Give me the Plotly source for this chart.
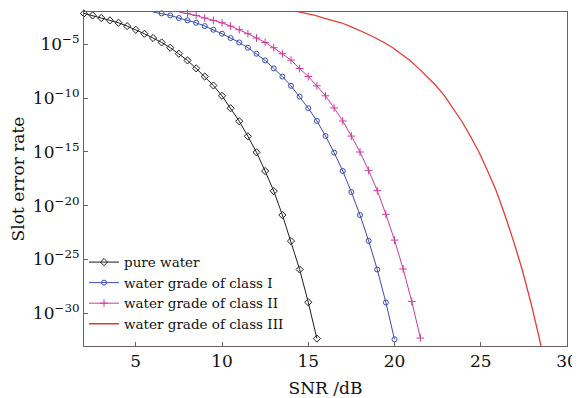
import plotly.graph_objects as go

# SNR (dB) sample points and log10 of slot error rate
snr_pure = [2.0, 2.5, 3.0, 3.5, 4.0, 4.5, 5.0, 5.5, 6.0, 6.5, 7.0, 7.5, 8.0, 8.5,
            9.0, 9.5, 10.0, 10.5, 11.0, 11.5, 12.0, 12.5, 13.0, 13.5, 14.0, 14.5, 15.0, 15.5]
log_pure = [-2.13, -2.32, -2.56, -2.78, -3.0, -3.31, -3.65, -4.02, -4.42, -4.83, -5.32, -5.88,
            -6.5, -7.24, -8.0, -8.83, -9.79, -10.94, -12.15, -13.55, -15.04, -16.78, -18.64,
            -20.87, -23.29, -25.93, -28.97, -32.35]

snr_c1 = [6.0, 6.5, 7.0, 7.5, 8.0, 8.5, 9.0, 9.5, 10.0, 10.5, 11.0, 11.5, 12.0, 12.5, 13.0,
          13.5, 14.0, 14.5, 15.0, 15.5, 16.0, 16.5, 17.0, 17.5, 18.0, 18.5, 19.0, 19.5, 20.0]
log_c1 = [-2.0, -2.13, -2.32, -2.56, -2.78, -3.0, -3.31, -3.65, -4.02, -4.42, -4.83, -5.32,
          -5.88, -6.5, -7.24, -8.0, -8.86, -9.86, -10.94, -12.12, -13.52, -15.07, -16.78,
          -18.73, -20.87, -23.27, -25.93, -29.0, -32.42]

snr_c2 = [7.5, 8.0, 8.5, 9.0, 9.5, 10.0, 10.5, 11.0, 11.5, 12.0, 12.5, 13.0, 13.5, 14.0, 14.5,
          15.0, 15.5, 16.0, 16.5, 17.0, 17.5, 18.0, 18.5, 19.0, 19.5, 20.0, 20.5, 21.0, 21.5]
log_c2 = [-2.0, -2.13, -2.32, -2.56, -2.78, -3.0, -3.31, -3.65, -4.02, -4.42, -4.83, -5.32,
          -5.88, -6.47, -7.25, -8.0, -8.86, -9.79, -10.92, -12.13, -13.53, -15.01, -16.72,
          -18.6, -20.8, -23.2, -25.88, -28.9, -32.3]

snr_c3 = [14.4, 14.9, 15.4, 15.9, 16.4, 16.9, 17.4, 17.9, 18.4, 18.9, 19.4, 19.9, 20.4, 20.9,
          21.4, 21.9, 22.4, 22.9, 23.4, 23.9, 24.4, 24.9, 25.4, 25.9, 26.4, 26.9, 27.4, 27.9,
          28.4, 28.9]
log_c3 = [-1.97, -2.13, -2.32, -2.56, -2.78, -3.0, -3.31, -3.65, -4.02, -4.42, -4.83, -5.32,
          -5.88, -6.5, -7.24, -8.0, -8.83, -9.79, -10.94, -12.15, -13.55, -15.04, -16.78,
          -18.64, -20.87, -23.29, -25.93, -28.97, -32.35, -36.1]

names = ["pure water", "water grade of class I", "water grade of class II",
         "water grade of class III"]

x_ticks = [5, 10, 15, 20, 25, 30]
y_tick_exps = [-5, -10, -15, -20, -25, -30]

FONT = "DejaVu Serif"
AXC = "#6a625e"

fig = go.Figure()
fig.add_trace(go.Scatter(
    x=snr_pure, y=[10 ** v for v in log_pure], name=names[0], mode="lines+markers",
    line=dict(color="#1e1e1e", width=1),
    marker=dict(symbol="diamond-open", size=5.5, color="#1e1e1e", line=dict(width=1)),
    cliponaxis=False))
fig.add_trace(go.Scatter(
    x=snr_c1, y=[10 ** v for v in log_c1], name=names[1], mode="lines+markers",
    line=dict(color="#3b4bb2", width=1),
    marker=dict(symbol="circle-open", size=5, color="#3b4bb2", line=dict(width=1)),
    cliponaxis=False))
fig.add_trace(go.Scatter(
    x=snr_c2, y=[10 ** v for v in log_c2], name=names[2], mode="lines+markers",
    line=dict(color="#cf3a9c", width=1),
    marker=dict(symbol="cross-thin-open", size=5.5, color="#cf3a9c",
                line=dict(width=1, color="#cf3a9c")),
    cliponaxis=False))
fig.add_trace(go.Scatter(
    x=snr_c3, y=[10 ** v for v in log_c3], name=names[3], mode="lines",
    line=dict(color="#e53b35", width=1.3)))

# the page body adds an 8 px offset, so the figure is 8 px smaller on each axis
fig.update_layout(
    width=572, height=390,
    margin=dict(l=76, r=13, t=4, b=52),
    paper_bgcolor="white", plot_bgcolor="white",
    font=dict(family=FONT, size=17, color="#111"),
    showlegend=True,
    legend=dict(x=0.0, y=0.297, xanchor="left", yanchor="top",
                bgcolor="rgba(0,0,0,0)", borderwidth=0,
                font=dict(family=FONT, size=13.5, color="#111"),
                tracegroupgap=0, itemwidth=30),
)
fig.update_xaxes(
    range=[2, 30], tickvals=x_ticks, ticktext=[str(t) for t in x_ticks],
    automargin=False,
    showgrid=False, zeroline=False, showline=True, linecolor=AXC, linewidth=1,
    mirror=True, ticks="inside", ticklen=4, tickcolor=AXC,
    tickfont=dict(family=FONT, size=17),
    title=dict(text="SNR /dB", font=dict(family=FONT, size=17)))
fig.update_yaxes(
    type="log", range=[-33.04, -2.0], automargin=True,
    tickvals=[10 ** e for e in y_tick_exps],
    ticktext=["10<sup>\u2212%d</sup>" % (-e) for e in y_tick_exps],
    showgrid=False, zeroline=False, showline=True, linecolor=AXC, linewidth=1,
    mirror=True, ticks="inside", ticklen=4, tickcolor=AXC,
    tickfont=dict(family=FONT, size=17),
    title=dict(text="Slot error rate", font=dict(family=FONT, size=17), standoff=5))

fig.write_html("out.html")
